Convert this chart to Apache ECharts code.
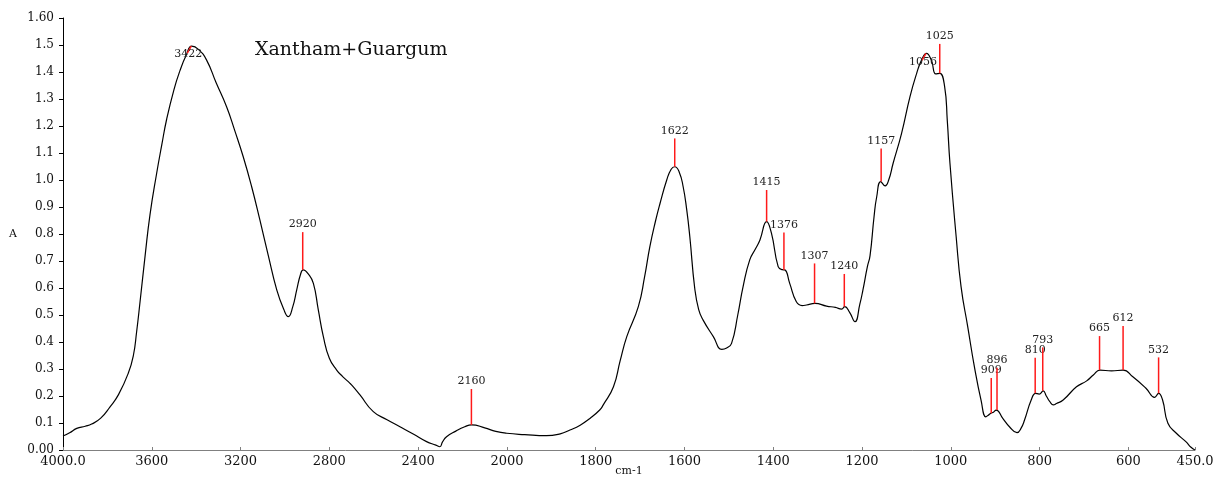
<!DOCTYPE html>
<html>
<head>
<meta charset="utf-8">
<script src="https://cdn.jsdelivr.net/npm/echarts@6/dist/echarts.min.js"></script>
<style>html,body{margin:0;padding:0;background:#fff}#c{width:1214px;height:478px}</style>
</head>
<body>
<div id="c"></div>
<script>
// Spectrum: wavenumber (cm-1) and absorbance
const wavenumbers = [4000,3970,3938,3900,3871,3830,3788,3750,3706,3683,3668,3653,3630,3608,3578,3555,3533,3500,3473,3445,3420,3390,3353,3310,3263,3225,3188,3150,3113,3075,3037,3005,2985,2965,2947,2930,2918,2895,2872,2850,2827,2800,2767,2740,2707,2692,2662,2602,2540,2482,2420,2362,2320,2302,2290,2272,2230,2190,2159,2100,2050,2001,1960,1911,1880,1858,1835,1813,1791,1783,1760,1745,1730,1704,1690,1678,1665,1655,1640,1630,1622,1612,1603,1595,1588,1577,1568,1558,1535,1516,1505,1494,1480,1468,1453,1440,1430,1415,1404,1389,1380,1374,1363,1348,1335,1325,1306,1280,1260,1246,1239,1228,1216,1205,1198,1188,1182,1173,1167,1158,1148,1140,1130,1111,1092,1077,1066,1055,1044,1034,1025,1014,1008,1002,988,977,962,947,932,921,915,910,904,898,883,868,851,842,834,819,809,801,792,785,777,769,762,747,717,694,679,664,638,612,590,560,541,532,523,511,492,470,459,450];
const absorbance = [0.052,0.064,0.080,0.088,0.096,0.118,0.160,0.205,0.284,0.350,0.44,0.548,0.72,0.872,1.025,1.13,1.225,1.335,1.405,1.462,1.496,1.484,1.444,1.36,1.271,1.18,1.086,0.975,0.852,0.72,0.593,0.52,0.494,0.53,0.593,0.650,0.667,0.652,0.617,0.52,0.420,0.34,0.296,0.272,0.247,0.234,0.204,0.142,0.112,0.086,0.058,0.031,0.018,0.012,0.03,0.049,0.070,0.086,0.093,0.082,0.069,0.062,0.057,0.053,0.060,0.074,0.092,0.117,0.148,0.167,0.234,0.33,0.420,0.531,0.64,0.753,0.85,0.914,1.00,1.04,1.049,1.03,0.975,0.89,0.790,0.600,0.52,0.481,0.420,0.373,0.378,0.395,0.50,0.605,0.704,0.745,0.778,0.846,0.802,0.679,0.668,0.667,0.617,0.549,0.535,0.537,0.543,0.533,0.528,0.522,0.531,0.51,0.475,0.54,0.593,0.679,0.72,0.864,0.938,0.994,0.978,1.00,1.062,1.173,1.309,1.395,1.444,1.469,1.444,1.393,1.395,1.346,1.22,1.062,0.790,0.605,0.457,0.309,0.185,0.123,0.13,0.136,0.14,0.148,0.117,0.086,0.064,0.08,0.111,0.185,0.210,0.207,0.219,0.2,0.179,0.167,0.172,0.185,0.234,0.256,0.278,0.296,0.293,0.296,0.271,0.228,0.195,0.21,0.185,0.099,0.062,0.03,0.010,0.0];

// Peak annotations
const peakWn  = [3422, 2920, 2160, 1622, 1415, 1376, 1307, 1240, 1157, 1056, 1025, 909, 896, 810, 793, 665, 612, 532];
const peakA   = [1.496, 0.667, 0.093, 1.049, 0.846, 0.667, 0.543, 0.531, 0.994, 1.469, 1.395, 0.136, 0.148, 0.210, 0.219, 0.296, 0.296, 0.210];
const peakTop = [null, 0.807, 0.226, 1.154, 0.963, 0.806, 0.691, 0.652, 1.117, null, 1.504, 0.267, 0.305, 0.342, 0.380, 0.422, 0.459, 0.343];

// Axis tick labels (wavenumber) and y ticks
const xTickLabels = ['4000.0','3600','3200','2800','2400','2000','1800','1600','1400','1200','1000','800','600','450.0'];
const yMin = 0, yMax = 1.6, yStep = 0.1;

// Instrument-style split scale: 4000-2000 compressed by 2
function toU(wn){ return wn >= 2000 ? (4000 - wn) / 2 : 1000 + (2000 - wn); }
const tickU = [0,200,400,600,800,1000,1200,1400,1600,1800,2000,2200,2400,2550];

const lineData = wavenumbers.map((w,i)=>[toU(w), absorbance[i]]);
const peakData = peakWn.map((w,i)=>({value:[toU(w), peakA[i], peakTop[i]==null?NaN:peakTop[i]], name:String(w)}));

const FONT = 'DejaVu Serif';
const chart = echarts.init(document.getElementById('c'), null, {renderer:'canvas'});
chart.setOption({
  animation:false,
  backgroundColor:'#fff',
  title:{text:'Xantham+Guargum', left:250, top:36, textStyle:{fontFamily:FONT, fontSize:19, fontWeight:'normal', color:'#111'}},
  grid:{left:63, right:19, top:18, bottom:28, containLabel:false, outerBoundsMode:'none'},
  xAxis:{
    type:'value', min:0, max:2550, interval:200,
    name:'cm-1', nameLocation:'middle', nameGap:16, nameMoveOverlap:false,
    nameTextStyle:{fontFamily:FONT, fontSize:11, color:'#111'},
    axisLine:{show:true, onZero:false, lineStyle:{color:'#808080', width:1}},
    axisTick:{show:true, inside:true, length:3, lineStyle:{color:'#808080'}},
    axisLabel:{margin:5, fontFamily:FONT, fontSize:13, color:'#111',
      formatter:function(v){ const i = tickU.indexOf(Math.round(v)); return i>=0 ? xTickLabels[i] : ''; }},
    splitLine:{show:false}
  },
  yAxis:{
    type:'value', min:yMin, max:yMax, interval:yStep,
    name:'A', nameLocation:'middle', nameGap:46, nameRotate:0, nameMoveOverlap:false,
    nameTextStyle:{fontFamily:FONT, fontSize:11, color:'#111', padding:[10,0,0,0]},
    axisLine:{show:true, lineStyle:{color:'#000', width:1}},
    axisTick:{show:true, inside:false, length:4, lineStyle:{color:'#000'}},
    axisLabel:{margin:9, fontFamily:FONT, fontSize:12, color:'#111',
      formatter:function(v){ return (Math.abs(v)<1e-9 || Math.abs(v-1.6)<1e-9) ? v.toFixed(2) : v.toFixed(1); }},
    splitLine:{show:false}
  },
  series:[
    {type:'line', data:lineData, showSymbol:false, smooth:0.5,
     lineStyle:{color:'#000', width:1.2}, z:3},
    {type:'custom', data:peakData, z:4,
     renderItem:function(params, api){
       const u = api.value(0), a = api.value(1), top = api.value(2);
       const p = api.coord([u, a]);
       const name = peakData[params.dataIndex].name;
       if (!isNaN(top)) {
         const t = api.coord([u, top]);
         return {type:'group', children:[
           {type:'line', shape:{x1:p[0], y1:p[1], x2:t[0], y2:t[1]}, style:{stroke:'#ff1a1a', lineWidth:1.5}},
           {type:'text', style:{text:name, x:t[0], y:t[1]-2, textAlign:'center', textVerticalAlign:'bottom',
             font:'11px "'+FONT+'"', fill:'#222'}}
         ]};
       }
       return {type:'group', children:[
         {type:'line', shape:{x1:p[0], y1:p[1], x2:p[0]-4, y2:p[1]+7}, style:{stroke:'#ff1a1a', lineWidth:1.5}},
         {type:'text', style:{text:name, x:p[0]-3, y:p[1]+3, textAlign:'center', textVerticalAlign:'top',
           font:'11px "'+FONT+'"', fill:'#222'}}
       ]};
     }}
  ]
});
</script>
</body>
</html>
